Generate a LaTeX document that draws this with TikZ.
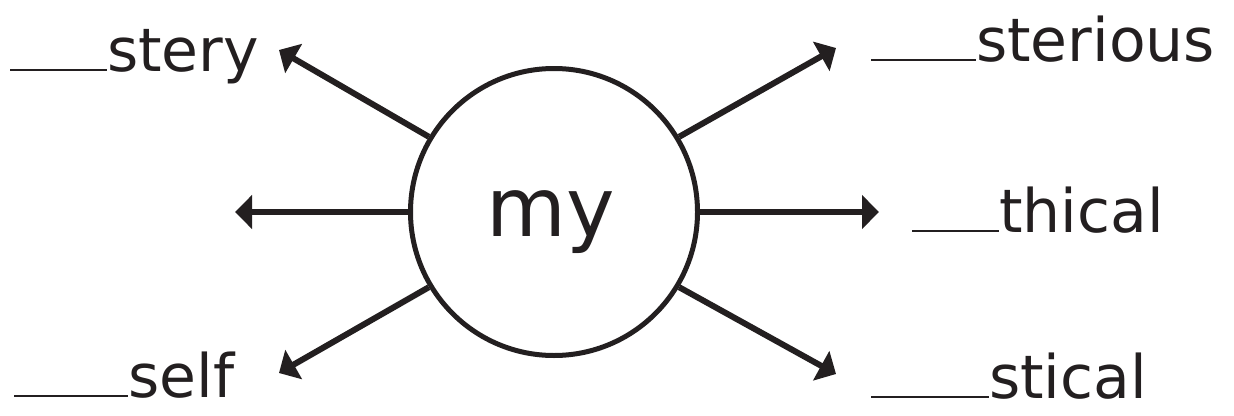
\documentclass[tikz,border=0pt]{standalone}
\usepackage{fontspec}
\setmainfont{DejaVu Sans}
\usetikzlibrary{arrows.meta}
\definecolor{ink}{RGB}{35,31,32}
\begin{document}
\begin{tikzpicture}[x=1pt,y=-1pt,
  hub/.style={circle,draw=ink,line width=5pt,minimum size=287pt,inner sep=0pt},
  conn/.style={draw=ink,line width=6pt,-{Triangle[length=17pt,width=33pt]}},
  word/.style={anchor=base west,inner sep=0pt,text=ink,font=\fontsize{60}{64}\selectfont}
]
\useasboundingbox (0,0) rectangle (1234,415);
\node[hub] (c) at (554,212) {};
\node[anchor=base,inner sep=0pt,text=ink,font=\fontsize{82}{90}\selectfont] (t) at (551,236) {my};

\coordinate (ul) at (279,50);
\coordinate (l) at (235,212);
\coordinate (dl) at (279,373);
\coordinate (ur) at (836,48);
\coordinate (r) at (879,212);
\coordinate (dr) at (836,374);

\draw[conn] (c.149) -- (ul);
\draw[conn] (c.west) -- (l);
\draw[conn] (c.211) -- (dl);
\draw[conn] (c.31) -- (ur);
\draw[conn] (c.east) -- (r);
\draw[conn] (c.-31) -- (dr);

\node[word] (w1) at (10,71) {\rule{97pt}{2pt}stery};
\node[word] (w2) at (14,397) {\rule{114pt}{2pt}self};
\node[word] (w3) at (871,61) {\rule{105pt}{2pt}sterious};
\node[word] (w4) at (912,232) {\rule{87pt}{2pt}thical};
\node[word] (w5) at (871,398) {\rule{118pt}{2pt}stical};
\end{tikzpicture}
\end{document}
